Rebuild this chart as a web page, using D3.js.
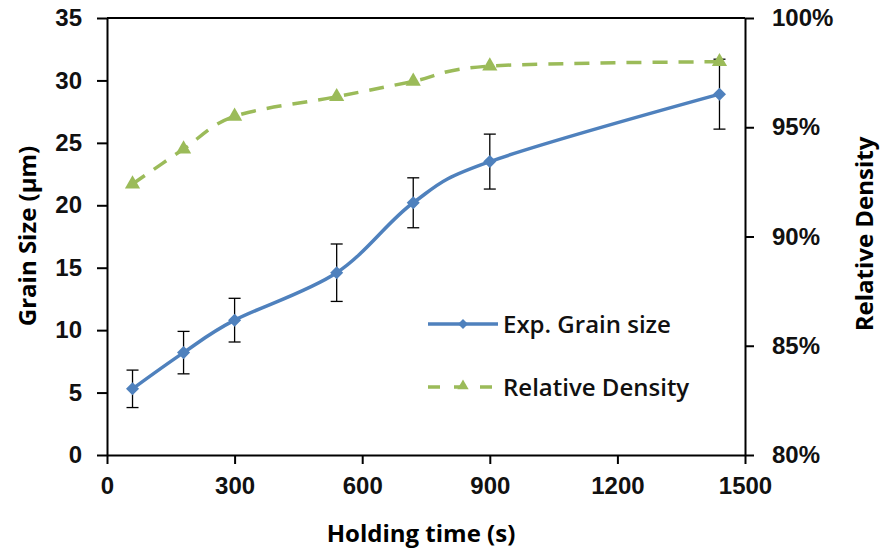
<!DOCTYPE html>
<html>
<head>
<meta charset="utf-8">
<script src="https://cdn.jsdelivr.net/npm/d3@7"></script>
<style>
  body { margin: 0; background: #fff; }
  svg { font-family: "Open Sans", sans-serif; }
</style>
</head>
<body>
<svg id="chart" width="882" height="555"></svg>
<script>
// data
const holdingTime = [60, 180, 300, 540, 720, 900, 1440];
const grainSize = [5.3, 8.2, 10.8, 14.6, 20.2, 23.5, 28.9];
const grainErr = [1.5, 1.7, 1.75, 2.3, 2.0, 2.2, 2.8];
const relDensity = [0.924, 0.940, 0.955, 0.964, 0.971, 0.978, 0.980];
const xTicks = [0, 300, 600, 900, 1200, 1500];
const yTicks = [0, 5, 10, 15, 20, 25, 30, 35];
const y2Ticks = [0.80, 0.85, 0.90, 0.95, 1.00];

const blue = "#4f81bd", green = "#9bbb59";
const margin = {left: 107, right: 882 - 745, top: 18, bottom: 555 - 455};
const width = 882, height = 555;

const svg = d3.select("#chart");

const x = d3.scaleLinear().domain([0, 1500]).range([margin.left, width - margin.right]);
const y = d3.scaleLinear().domain([0, 35]).range([height - margin.bottom, margin.top]);
const y2 = d3.scaleLinear().domain([0.8, 1.0]).range([height - margin.bottom, margin.top]);

const pts = holdingTime.map((t, i) => ({t, g: grainSize[i], e: grainErr[i], d: relDensity[i]}));

// top border
svg.append("line")
    .attr("x1", x(0)).attr("x2", x(1500))
    .attr("y1", y(35)).attr("y2", y(35))
    .attr("stroke", "#000").attr("stroke-width", 2);

function styleAxis(g) {
    g.select(".domain").attr("stroke", "#000").attr("stroke-width", 2);
    g.selectAll(".tick line").attr("stroke", "#000").attr("stroke-width", 2);
    g.selectAll(".tick text").attr("fill", "#111")
        .style("font-size", "24px").style("font-weight", 600);
}

svg.append("g")
    .attr("transform", `translate(0,${y(0)})`)
    .call(d3.axisBottom(x).tickValues(xTicks).tickFormat(d3.format("d"))
        .tickSizeInner(9).tickSizeOuter(0).tickPadding(13))
    .call(styleAxis);

svg.append("g")
    .attr("transform", `translate(${x(0)},0)`)
    .call(d3.axisLeft(y).tickValues(yTicks).tickSizeInner(10).tickSizeOuter(0).tickPadding(15))
    .call(styleAxis);

svg.append("g")
    .attr("transform", `translate(${x(1500)},0)`)
    .call(d3.axisRight(y2).tickValues(y2Ticks).tickFormat(d3.format(".0%"))
        .tickSizeInner(9).tickSizeOuter(0).tickPadding(18))
    .call(styleAxis);

// axis titles
svg.append("text")
    .attr("x", 421).attr("y", 542)
    .attr("text-anchor", "middle")
    .style("font-size", "24px").style("font-weight", "bold")
    .text("Holding time (s)");

svg.append("text")
    .attr("transform", "translate(36,236) rotate(-90)")
    .attr("text-anchor", "middle")
    .style("font-size", "24px").style("font-weight", "bold")
    .text("Grain Size (μm)");

svg.append("text")
    .attr("transform", "translate(873,234) rotate(-90)")
    .attr("text-anchor", "middle")
    .style("font-size", "24px").style("font-weight", "bold")
    .text("Relative Density");

// density line
const densLine = d3.line().x(d => x(d.t)).y(d => y2(d.d)).curve(d3.curveCatmullRom.alpha(0));
svg.append("path")
    .datum(pts)
    .attr("d", densLine)
    .attr("fill", "none")
    .attr("stroke", green)
    .attr("stroke-width", 3.5)
    .attr("stroke-dasharray", "15,11");

// grain size line
const grainLine = d3.line().x(d => x(d.t)).y(d => y(d.g)).curve(d3.curveCatmullRom.alpha(0));
svg.append("path")
    .datum(pts)
    .attr("d", grainLine)
    .attr("fill", "none")
    .attr("stroke", blue)
    .attr("stroke-width", 3.5);

// error bars
const err = svg.append("g").attr("stroke", "#000").attr("stroke-width", 1.3);
err.selectAll("line.v")
    .data(pts)
    .join("line")
    .attr("class", "v")
    .attr("x1", d => x(d.t)).attr("x2", d => x(d.t))
    .attr("y1", d => y(d.g - d.e)).attr("y2", d => y(d.g + d.e));
err.selectAll("line.top")
    .data(pts)
    .join("line")
    .attr("class", "top")
    .attr("x1", d => x(d.t) - 6).attr("x2", d => x(d.t) + 6)
    .attr("y1", d => y(d.g + d.e)).attr("y2", d => y(d.g + d.e));
err.selectAll("line.bot")
    .data(pts)
    .join("line")
    .attr("class", "bot")
    .attr("x1", d => x(d.t) - 6).attr("x2", d => x(d.t) + 6)
    .attr("y1", d => y(d.g - d.e)).attr("y2", d => y(d.g - d.e));

// markers
const diamond = d3.symbol().type(d3.symbolSquare).size(85);
const triangle = d3.symbol().type(d3.symbolTriangle).size(100);

svg.append("g").selectAll("path")
    .data(pts)
    .join("path")
    .attr("d", diamond)
    .attr("transform", d => `translate(${x(d.t)},${y(d.g)}) rotate(45)`)
    .attr("fill", blue);

svg.append("g").selectAll("path")
    .data(pts)
    .join("path")
    .attr("d", triangle)
    .attr("transform", d => `translate(${x(d.t)},${y2(d.d)})`)
    .attr("fill", green);

// legend
const legend = svg.append("g");
legend.append("line")
    .attr("x1", 428).attr("x2", 498).attr("y1", 324).attr("y2", 324)
    .attr("stroke", blue).attr("stroke-width", 3.5);
legend.append("path")
    .attr("d", d3.symbol().type(d3.symbolSquare).size(50))
    .attr("transform", "translate(463,324) rotate(45)")
    .attr("fill", blue);
legend.append("text")
    .attr("x", 503).attr("y", 333)
    .attr("fill", "#111")
    .style("font-size", "24px").style("font-weight", 600)
    .text("Exp. Grain size");

legend.append("line")
    .attr("x1", 428).attr("x2", 498).attr("y1", 387).attr("y2", 387)
    .attr("stroke", green).attr("stroke-width", 3.5)
    .attr("stroke-dasharray", "12,14");
legend.append("path")
    .attr("d", d3.symbol().type(d3.symbolTriangle).size(55))
    .attr("transform", "translate(463,386)")
    .attr("fill", green);
legend.append("text")
    .attr("x", 503).attr("y", 396)
    .attr("fill", "#111")
    .style("font-size", "24px").style("font-weight", 600)
    .text("Relative Density");
</script>
</body>
</html>
